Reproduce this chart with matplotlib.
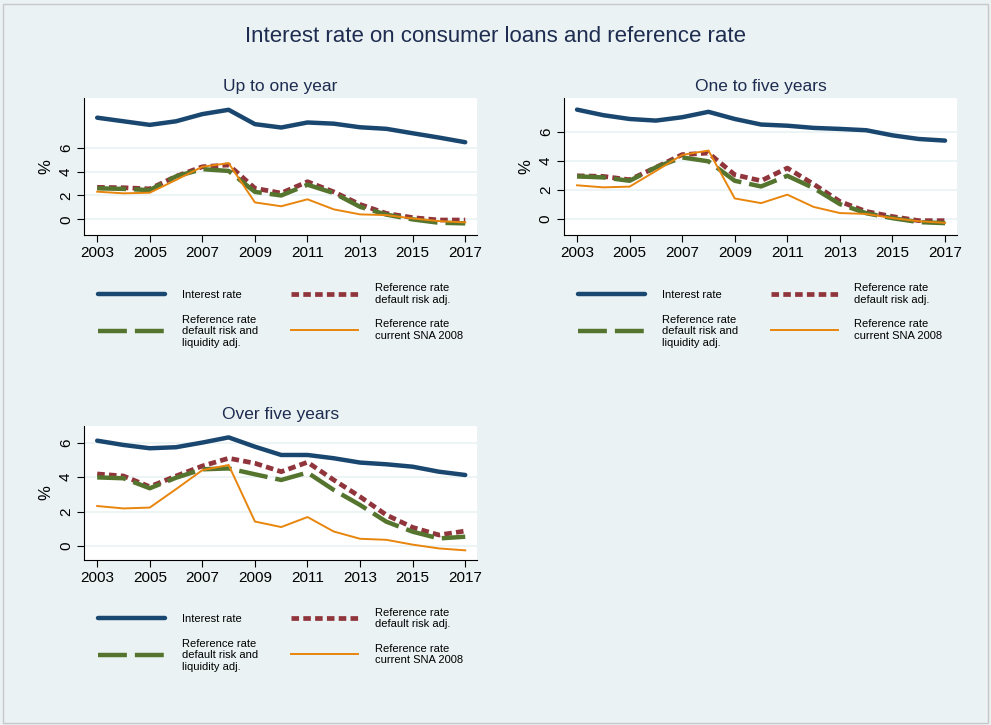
import matplotlib.pyplot as plt
from matplotlib.patches import Rectangle

plt.rcParams['font.family'] = ['Liberation Sans', 'DejaVu Sans']

years = list(range(2003, 2018))

# Up to one year
short_interest = [8.5, 8.2, 7.9, 8.2, 8.8, 9.16, 7.96, 7.68, 8.1, 8.0, 7.7, 7.57, 7.2, 6.84, 6.45]
short_default = [2.68, 2.65, 2.55, 3.6, 4.4, 4.55, 2.6, 2.2, 3.15, 2.3, 1.25, 0.5, 0.15, -0.05, -0.05]
short_liquidity = [2.6, 2.55, 2.45, 3.6, 4.2, 4.05, 2.3, 2.0, 2.9, 2.2, 1.05, 0.4, 0.0, -0.28, -0.33]

# One to five years
mid_interest = [7.5, 7.12, 6.86, 6.75, 6.98, 7.35, 6.86, 6.48, 6.4, 6.25, 6.18, 6.09, 5.74, 5.49, 5.38]
mid_default = [2.97, 2.93, 2.7, 3.55, 4.42, 4.53, 3.04, 2.63, 3.5, 2.4, 1.21, 0.53, 0.18, -0.1, -0.1]
mid_liquidity = [2.93, 2.86, 2.63, 3.55, 4.23, 3.96, 2.63, 2.24, 2.97, 2.13, 1.03, 0.41, 0.07, -0.2, -0.27]

# Over five years
long_interest = [6.11, 5.86, 5.67, 5.73, 6.0, 6.3, 5.76, 5.28, 5.28, 5.09, 4.84, 4.74, 4.6, 4.31, 4.12]
long_default = [4.18, 4.06, 3.44, 4.06, 4.64, 5.09, 4.8, 4.31, 4.86, 3.83, 2.86, 1.8, 1.08, 0.64, 0.87]
long_liquidity = [3.98, 3.93, 3.35, 3.96, 4.45, 4.5, 4.16, 3.83, 4.26, 3.25, 2.38, 1.41, 0.83, 0.44, 0.54]

# Reference rate current SNA 2008 (same for all maturities)
sna2008 = [2.32, 2.18, 2.23, 3.3, 4.4, 4.7, 1.42, 1.1, 1.68, 0.84, 0.42, 0.36, 0.08, -0.14, -0.25]

titles = ['Up to one year', 'One to five years', 'Over five years']
labels = ['Interest rate', 'Reference rate\ndefault risk adj.',
          'Reference rate\ndefault risk and\nliquidity adj.', 'Reference rate\ncurrent SNA 2008']

bg = '#eaf2f3'
navy = '#1a476f'
maroon = '#90353b'
green = '#55752f'
orange = '#e8850c'

fig = plt.figure(figsize=(9.91, 7.25), dpi=100, facecolor=bg)
fig.add_artist(Rectangle((0.003, 0.003), 0.994, 0.992, transform=fig.transFigure,
                         fill=False, edgecolor='#c8c8c8', linewidth=1))
fig.text(0.5, 0.949, 'Interest rate on consumer loans and reference rate',
         ha='center', va='center', fontsize=16, color='#1e2c50')

positions = [[0.0848, 0.6759, 0.3966, 0.189],
             [0.569, 0.6759, 0.3966, 0.189],
             [0.0848, 0.2276, 0.3966, 0.1848]]
ylims = [(-1.3, 10.15), (-1.08, 8.3), (-0.81, 6.96)]
data = [(short_interest, short_default, short_liquidity),
        (mid_interest, mid_default, mid_liquidity),
        (long_interest, long_default, long_liquidity)]

for i in range(3):
    ax = fig.add_axes(positions[i])
    ax.set_facecolor('white')
    interest, default, liquidity = data[i]
    for yv in [0, 2, 4, 6]:
        ax.axhline(yv, color=bg, linewidth=1.2, zorder=0)
    l1, = ax.plot(years, interest, color=navy, linewidth=3.2, solid_capstyle='round')
    l2, = ax.plot(years, default, color=maroon, linewidth=3.4, linestyle=(0, (1.6, 0.9)))
    l3, = ax.plot(years, liquidity, color=green, linewidth=3.2, linestyle=(0, (6.5, 1.8)))
    l4, = ax.plot(years, sna2008, color=orange, linewidth=1.4)
    ax.set_xlim(2002.5, 2017.45)
    ax.set_ylim(*ylims[i])
    ax.set_xticks(range(2003, 2018, 2))
    ax.set_yticks([0, 2, 4, 6])
    ax.tick_params(axis='x', labelsize=11, length=5, pad=3)
    ax.tick_params(axis='y', labelsize=11, length=5, pad=3, labelrotation=90)
    for lab in ax.get_yticklabels():
        lab.set_va('center')
    ax.spines['top'].set_visible(False)
    ax.spines['right'].set_visible(False)
    ax.set_ylabel('%', fontsize=12, labelpad=4)
    ax.set_title(titles[i], fontsize=12.5, color='#1e2c50', pad=5)
    ax.legend([l1, l3, l2, l4], [labels[0], labels[2], labels[1], labels[3]],
              ncol=2, loc='upper center', bbox_to_anchor=(0.5, -0.28),
              frameon=False, fontsize=8, handlelength=6, handletextpad=1.5,
              columnspacing=3, labelspacing=1.3)

plt.savefig('out.png', dpi=100, facecolor=bg)
